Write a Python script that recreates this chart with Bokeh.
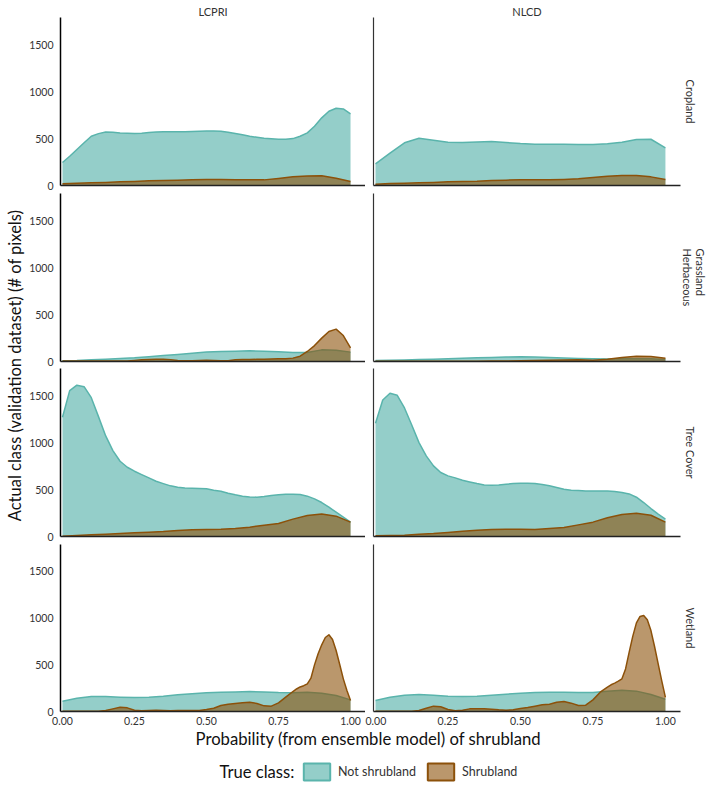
import numpy as np
from math import pi

from bokeh.embed import file_html
from bokeh.layouts import column, gridplot, row
from bokeh.models import FixedTicker, Label, Legend, LegendItem, NumeralTickFormatter, Range1d, Title
from bokeh.plotting import figure
from bokeh.resources import INLINE

sources = ["LCPRI", "NLCD"]
covers = ["Cropland", "Grassland\nHerbaceous", "Tree Cover", "Wetland"]
x_ticks = [0, 0.25, 0.5, 0.75, 1]
y_ticks = [0, 500, 1000, 1500]

# Values, evenly spaced along probability 0..1
crop_lcpri_not = [245, 312, 383, 455, 525, 553, 570, 567, 560, 557, 554, 558, 565, 569, 572, 572, 572, 573, 575, 578,
                  582, 582, 579, 568, 554, 540, 525, 514, 504, 498, 493, 494, 500, 525, 561, 632, 721, 792, 824, 816, 763]
crop_lcpri_shrub = [18, 25, 28, 32, 39, 43, 50, 53, 57, 60, 64, 64, 60, 60, 60, 75, 92, 100, 103, 78, 43]
crop_nlcd_not = [230, 345, 455, 504, 483, 461, 458, 465, 469, 458, 447, 440, 440, 440, 437, 437, 444, 461, 490, 493, 401]
crop_nlcd_shrub = [14, 21, 25, 28, 32, 39, 43, 46, 53, 57, 60, 60, 60, 64, 71, 85, 99, 106, 106, 92, 64]

grass_lcpri_not = [7, 10, 18, 25, 32, 39, 50, 64, 75, 89, 100, 107, 110, 114, 110, 103, 96, 96, 124, 121, 100]
grass_lcpri_shrub = [4, 4, 4, 4, 4, 4, 4, 5, 6, 6, 12, 18, 21, 24, 25, 20, 11, 8, 7, 10,
                     14, 11, 7, 9, 18, 20, 21, 23, 25, 27, 28, 30, 36, 57, 107, 170, 249, 320, 345, 277, 146]
grass_nlcd_not = [10, 14, 17, 21, 25, 30, 35, 39, 43, 47, 50, 47, 42, 37, 32, 28, 27, 28, 30, 28, 21]
grass_nlcd_shrub = [3, 3, 3, 3, 3, 3, 3, 3, 4, 5, 7, 10, 14, 16, 18, 14, 25, 42, 55, 53, 35]

tree_lcpri_not = [1271, 1555, 1613, 1597, 1480, 1278, 1072, 916, 802, 738, 696, 660, 625, 589, 564, 540, 525, 518, 515, 511,
                  508, 493, 483, 461, 444, 430, 422, 419, 426, 437, 444, 451, 451, 447, 430, 401, 362, 312, 259, 206, 153]
tree_lcpri_shrub = [4, 11, 18, 25, 32, 39, 46, 53, 64, 71, 75, 78, 85, 99, 121, 138, 185, 224, 241, 217, 153]
tree_nlcd_not = [1207, 1455, 1527, 1505, 1370, 1189, 1001, 859, 753, 682, 646, 625, 600, 582, 564, 550, 547, 550, 557, 564,
                 568, 568, 564, 554, 540, 522, 504, 493, 490, 486, 486, 486, 486, 479, 469, 454, 419, 362, 298, 238, 185]
tree_nlcd_shrub = [7, 11, 14, 25, 32, 43, 57, 67, 75, 78, 78, 75, 85, 96, 124, 153, 199, 234, 248, 227, 153]

wet_lcpri_not = [110, 142, 160, 160, 153, 149, 153, 163, 178, 188, 199, 206, 209, 213, 209, 202, 199, 206, 195, 170, 124]
wet_nlcd_not = [117, 153, 174, 181, 174, 163, 160, 163, 174, 185, 195, 202, 206, 206, 202, 202, 217, 227, 217, 181, 131]

# the wetland shrubland peaks were read more closely from 0.8125 on
wet_shrub_probs = [i * 0.025 for i in range(33)] + [0.8125 + i * 0.0125 for i in range(16)]
wet_lcpri_shrub = [3, 3, 3, 3, 3, 3, 10, 28, 46, 39, 14, 7, 10, 14, 10, 7, 10, 10, 10, 10,
                   21, 35, 64, 78, 85, 92, 99, 85, 60, 57, 92, 153, 213,
                   240, 262, 275, 295, 355, 497, 615, 711, 789, 818, 768, 650, 501, 348, 224, 117]
wet_nlcd_shrub = [3, 3, 3, 3, 3, 3, 10, 35, 57, 50, 21, 7, 14, 28, 28, 28, 25, 18, 14, 18,
                  32, 43, 57, 71, 78, 99, 106, 89, 64, 67, 124, 206, 259,
                  285, 302, 323, 348, 454, 632, 803, 945, 1013, 1024, 977, 863, 693, 508, 323, 150]

panel_values = [
    [(crop_lcpri_not, crop_lcpri_shrub), (crop_nlcd_not, crop_nlcd_shrub)],
    [(grass_lcpri_not, grass_lcpri_shrub), (grass_nlcd_not, grass_nlcd_shrub)],
    [(tree_lcpri_not, tree_lcpri_shrub), (tree_nlcd_not, tree_nlcd_shrub)],
    [(wet_lcpri_not, wet_lcpri_shrub), (wet_nlcd_not, wet_nlcd_shrub)],
]

TEAL = "#5ab4ac"
BROWN = "#8c510a"
TEAL_ALPHA = 0.65
BROWN_ALPHA = 0.6
FONT = "Lato"
TEXT = "#333333"

row_heights = [168, 168, 168, 167]
row_tops = [17, 2, 1, 2]
row_bottoms = [6, 6, 6, 18]


def density(p, values, color, alpha):
    xs = wet_shrub_probs if len(values) == len(wet_shrub_probs) else np.linspace(0, 1, len(values))
    p.varea(x=xs, y1=0, y2=values, fill_color=color, fill_alpha=alpha)
    p.line(x=xs, y=values, line_color=color, line_width=1.5, line_join="round")


def strip(text, standoff):
    return Title(text=text, align="center", standoff=standoff, offset=0, text_font=FONT,
                 text_font_size="11px", text_font_style="normal", text_color=TEXT)


figs = []
for r, cover in enumerate(covers):
    line = []
    for c, name in enumerate(sources):
        h = row_heights[r]
        left = 32 if c == 0 else 8
        right = 0 if c == 0 else 29
        p = figure(
            width=left + 307 + right, height=row_tops[r] + h + row_bottoms[r],
            x_range=Range1d(-0.0069, 1.052), y_range=Range1d(0, h * 10.66),
            output_backend="svg", toolbar_location=None,
            min_border_left=left, min_border_right=right,
            min_border_top=row_tops[r], min_border_bottom=row_bottoms[r],
        )
        not_shrub, shrub = panel_values[r][c]
        density(p, not_shrub, TEAL, TEAL_ALPHA)
        density(p, shrub, BROWN, BROWN_ALPHA)

        p.grid.grid_line_color = None
        p.outline_line_color = None
        p.xaxis.ticker = FixedTicker(ticks=x_ticks if r == 3 else [])
        p.xaxis.formatter = NumeralTickFormatter(format="0.00")
        p.yaxis.ticker = FixedTicker(ticks=y_ticks if c == 0 else [])
        for ax in (p.xaxis, p.yaxis):
            ax.major_tick_line_color = None
            ax.minor_tick_line_color = None
            ax.major_tick_out = 0
            ax.major_tick_in = 0
            ax.minor_tick_out = 0
            ax.minor_tick_in = 0
            ax.major_label_text_font = FONT
            ax.major_label_text_font_size = "10.5px"
            ax.major_label_text_color = TEXT
        p.xaxis.axis_line_color = "#222222"
        p.xaxis.axis_line_width = 1.5
        p.xaxis.major_label_standoff = 5 if r == 3 else 0
        p.yaxis.axis_line_color = "#000000" if c == 0 else "#333333"
        p.yaxis.axis_line_width = 1.5 if c == 0 else 1.2
        p.yaxis.major_label_standoff = 7 if c == 0 else 0

        if r == 0:
            p.add_layout(strip(name, 0), "above")
        if c == 1:
            p.add_layout(strip(cover, 0 if "\n" in cover else 7), "right")
        line.append(p)
    figs.append(line)

grid = gridplot(figs, toolbar_location=None)

# y title sits in its own narrow strip beside the grid
ylab = figure(width=26, height=729, x_axis_type=None, y_axis_type=None, min_border=0,
              output_backend="svg", toolbar_location=None)
ylab.outline_line_color = None
ylab.grid.grid_line_color = None
ylab.add_layout(Label(x=14, y=364, x_units="screen", y_units="screen", angle=pi / 2,
                      text="Actual class (validation dataset) (# of pixels)",
                      text_font=FONT, text_font_size="16.5px", text_color="#111111",
                      text_align="center", text_baseline="middle"))

# x title and the legend
foot = figure(width=709, height=53, x_range=Range1d(0, 1), y_range=Range1d(0, 1),
              x_axis_type=None, y_axis_type=None, min_border=0,
              output_backend="svg", toolbar_location=None)
foot.outline_line_color = None
foot.grid.grid_line_color = None
foot.add_layout(Label(x=368, y=44, x_units="screen", y_units="screen",
                      text="Probability (from ensemble model) of shrubland",
                      text_font=FONT, text_font_size="16.7px", text_color="#111111",
                      text_align="center", text_baseline="middle"))
foot.add_layout(Label(x=219, y=11, x_units="screen", y_units="screen", text="True class:",
                      text_font=FONT, text_font_size="16.6px", text_color="#111111",
                      text_align="left", text_baseline="middle"))
# the keys need one row to draw in the legend; it lies outside the ranges
key_not = foot.quad(left=[2], right=[3], bottom=[2], top=[3], fill_color=TEAL, fill_alpha=TEAL_ALPHA,
                    line_color=TEAL, line_width=2)
key_shrub = foot.quad(left=[2], right=[3], bottom=[2], top=[3], fill_color=BROWN, fill_alpha=BROWN_ALPHA,
                      line_color=BROWN, line_width=2)
legend = Legend(
    items=[LegendItem(label="Not shrubland", renderers=[key_not]),
           LegendItem(label="Shrubland", renderers=[key_shrub])],
    orientation="horizontal", location=(300, 0), margin=0, padding=0, spacing=8,
    glyph_width=33, glyph_height=21, label_standoff=5,
    label_text_font=FONT, label_text_font_size="12.5px", label_text_color=TEXT,
    border_line_color=None, background_fill_alpha=0,
)
foot.add_layout(legend, "center")

page = column(row(ylab, grid, spacing=0), foot, spacing=0)
open("out.html", "w").write(file_html(page, INLINE))
